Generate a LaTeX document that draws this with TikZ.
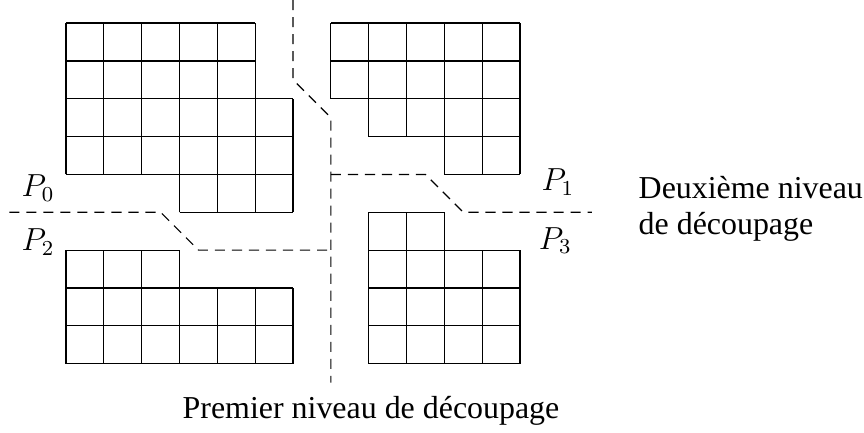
\documentclass[tikz,border=0pt]{standalone}
\usepackage{fontspec}
\setmainfont{Liberation Serif}
\usepackage{tikz}
\usetikzlibrary{positioning}

\begin{document}
\begin{tikzpicture}[scale=0.5, line width=0.45pt, cut/.style={dash pattern=on 3.8pt off 2.6pt}]
            \useasboundingbox (-1.745,-1.81) rectangle (21.09,9.61);

            % P0 block
            \draw (0,7) grid (5,9);
            \draw (0,5) grid (6,7);
            \draw (3,4) grid (6,5);

            % P1 block
            \draw (7,7) grid (12,9);
            \draw (8,6) grid (12,7);
            \draw (10,5) grid (12,6);

            % P2 block
            \draw (0,2) grid (3,3);
            \draw (0,0) grid (6,2);

            % P3 block
            \draw (8,3) grid (10,4);
            \draw (8,0) grid (12,3);

            % First level cut
            \draw[cut] (6,9.61) -- (6,7.5) -- (7,6.5) -- (7,-0.5);

            % Second level cuts
            \draw[cut] (-1.5,4) -- (2.5,4) -- (3.5,3) -- (7,3);
            \draw[cut] (7,5) -- (9.5,5) -- (10.5,4) -- (13.9,4);

            % Labels
            \node (p0) at (-0.74,4.63) {\large $P_0$};
            \node (p1) at (13,4.8) {\large $P_1$};
            \node (p2) at (-0.74,3.21) {\large $P_2$};
            \node (p3) at (12.93,3.25) {\large $P_3$};

            \node[align=left, anchor=west, inner sep=0pt] (second) at (15.12,4.1) {\large Deuxième niveau\\[1.5pt]\large de découpage};
            \node (first) at (8.06,-1.25) {\large Premier niveau de découpage};
        \end{tikzpicture}
\end{document}
